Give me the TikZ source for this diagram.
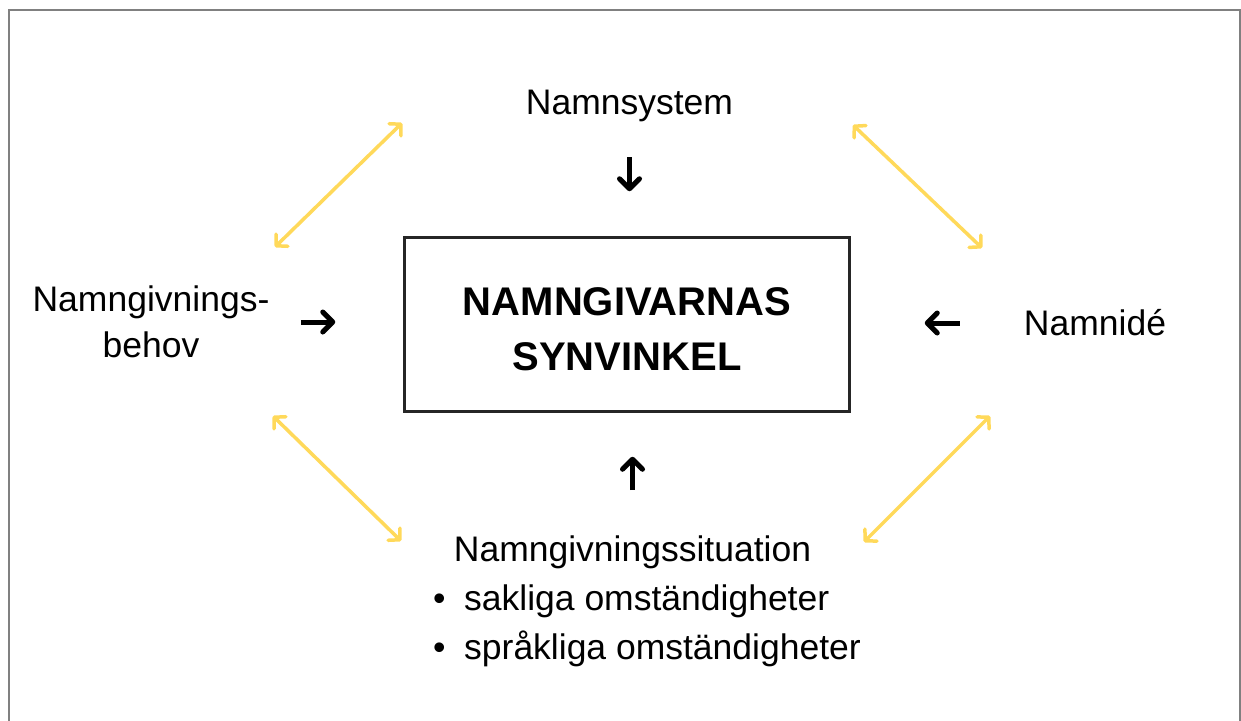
\documentclass[tikz,border=0pt]{standalone}
\usepackage{fontspec}
\setmainfont{Liberation Sans}
\usetikzlibrary{arrows.meta}

\definecolor{framegray}{RGB}{128,128,128}
\definecolor{gold}{RGB}{255,217,90}

\tikzset{
  lbl/.style={font=\fontsize{35.5}{46}\selectfont, inner sep=0pt},
  blk/.style={line width=5pt, -{Straight Barb[length=10pt,width=20pt,round]}},
  link/.style={draw=gold, line width=3.5pt, {Straight Barb[length=8pt,width=17pt,round]}-{Straight Barb[length=8pt,width=17pt,round]}},
}

\begin{document}
\begin{tikzpicture}[x=1pt,y=-1pt]
\useasboundingbox (0,0) rectangle (1241,720);
\draw[framegray, line width=2pt] (9.2,10) rectangle (1240,740);

\node[draw=black!85, line width=3.5pt, minimum width=445pt, minimum height=174pt, align=center, font=\bfseries\fontsize{40}{55}\selectfont] (box) at (627,324.5) {\rule{0pt}{37pt}NAMNGIVARNAS\\SYNVINKEL};

\node[lbl, anchor=base] (sys) at (629.5,114) {Namnsystem};
\node[lbl, align=center] (need) at (151,322) {Namngivnings-\\behov};
\node[lbl] (idea) at (1095,323) {Namnidé};
\node[lbl, anchor=base] (sit) at (632.5,561) {Namngivningssituation};
\node[lbl, anchor=base west] (sak) at (433,610) {\makebox[31pt][l]{•}sakliga omständigheter};
\node[lbl, anchor=base west] (spr) at (433,659) {\makebox[31pt][l]{•}språkliga omständigheter};

\draw[blk, shorten <=35.6pt, shorten >=44.5pt] (sys.south) -- (sys.south |- box.north);
\draw[blk, shorten <=31.3pt, shorten >=67.5pt] (need.east) -- (need.east -| box.west);
\draw[blk, shorten <=64pt, shorten >=73.5pt] (idea.west) -- (idea.west -| box.east);
\draw[blk, shorten <=44.9pt, shorten >=43.5pt] (sit.north) -- (sit.north |- box.south);

\coordinate (tl1) at (275,247); \coordinate (tl2) at (402,123);
\coordinate (tr1) at (853,125); \coordinate (tr2) at (982,248);
\coordinate (bl1) at (273,416); \coordinate (bl2) at (401,541);
\coordinate (br1) at (990,416); \coordinate (br2) at (864,542);
\draw[link] (tl1) -- (tl2);
\draw[link] (tr1) -- (tr2);
\draw[link] (bl1) -- (bl2);
\draw[link] (br1) -- (br2);
\end{tikzpicture}
\end{document}
